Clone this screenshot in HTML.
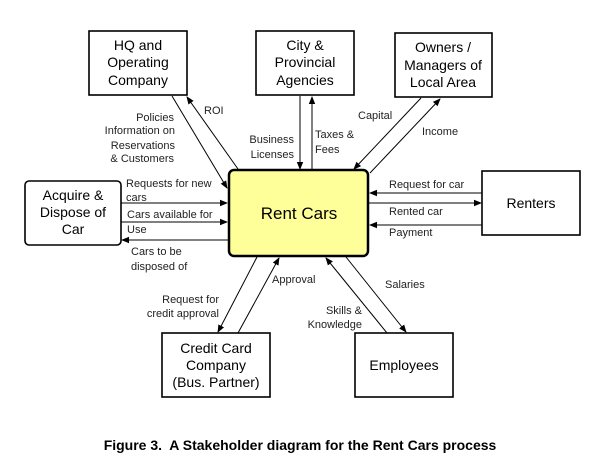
<!DOCTYPE html>
<html><head><meta charset="utf-8"><style>
body{margin:0;background:#fff;}
svg{display:block;font-family:"Liberation Sans",Arial,sans-serif;}
.b{font-size:14px;fill:#000;}
.l{font-size:11px;fill:#222;}
</style></head><body>
<svg width="600" height="462" viewBox="0 0 600 462">
<defs><marker id="a" markerWidth="8" markerHeight="8" refX="7" refY="4" orient="auto" markerUnits="userSpaceOnUse"><path d="M0,0.8 L8,4 L0,7.2 Z" fill="#000"/></marker></defs>
<g fill="#fff" stroke="#000" stroke-width="1.6">
<rect x="89" y="31" width="98" height="64"/>
<rect x="256" y="31" width="98" height="64"/>
<rect x="395" y="33" width="97" height="64"/>
<rect x="25" y="181" width="96" height="64" rx="4"/>
<rect x="482" y="171" width="98" height="64"/>
<rect x="162" y="333" width="108" height="64"/>
<rect x="355" y="333" width="98" height="64"/>
</g>
<rect x="229" y="170" width="139" height="86" rx="5" fill="#ffff99" stroke="#000" stroke-width="2.5"/>
<g stroke="#000" stroke-width="1" marker-end="url(#a)">
<line x1="172" y1="96" x2="227" y2="188"/>
<line x1="238" y1="169" x2="187" y2="97"/>
<line x1="300" y1="96" x2="300" y2="169"/>
<line x1="312" y1="169" x2="312" y2="97"/>
<line x1="421" y1="98" x2="354" y2="169"/>
<line x1="370" y1="173" x2="440" y2="99"/>
<line x1="121" y1="203" x2="227" y2="203"/>
<line x1="121" y1="222" x2="227" y2="222"/>
<line x1="229" y1="240" x2="122" y2="240"/>
<line x1="482" y1="193" x2="370" y2="193"/>
<line x1="369" y1="203" x2="481" y2="203"/>
<line x1="482" y1="225" x2="370" y2="225"/>
<line x1="257" y1="257" x2="218" y2="332"/>
<line x1="238" y1="333" x2="279" y2="258"/>
<line x1="387" y1="333" x2="326" y2="258"/>
<line x1="346" y1="257" x2="406" y2="332"/>
</g>
<g class="b" text-anchor="middle">
<text x="138" y="50">HQ and</text><text x="138" y="67">Operating</text><text x="138" y="85">Company</text>
<text x="305" y="50">City &amp;</text><text x="305" y="67">Provincial</text><text x="305" y="85">Agencies</text>
<text x="443" y="52">Owners /</text><text x="443" y="70">Managers of</text><text x="443" y="87">Local Area</text>
<text x="73" y="200">Acquire &amp;</text><text x="73" y="217">Dispose of</text><text x="73" y="234">Car</text>
<text x="531" y="208">Renters</text>
<text x="216" y="353">Credit Card</text><text x="216" y="370">Company</text><text x="216" y="387">(Bus. Partner)</text>
<text x="404" y="370">Employees</text>
<text x="299" y="219" font-size="17">Rent Cars</text>
</g>
<g class="l">
<text x="204" y="114">ROI</text>
<g text-anchor="end"><text x="174" y="121">Policies</text><text x="175" y="134">Information on</text><text x="175" y="149">Reservations</text><text x="174" y="162">&amp; Customers</text>
<text x="294" y="143">Business</text><text x="294" y="158">Licenses</text>
<text x="219" y="303">Request for</text><text x="219" y="317">credit approval</text>
<text x="362" y="314">Skills &amp;</text><text x="362" y="328">Knowledge</text></g>
<text x="315" y="138">Taxes &amp;</text><text x="315" y="153">Fees</text>
<text x="358" y="119">Capital</text><text x="422" y="135">Income</text>
<text x="126" y="187">Requests for new</text><text x="126" y="201">cars</text>
<text x="127" y="218">Cars available for</text><text x="127" y="233">Use</text>
<text x="131" y="255">Cars to be</text><text x="131" y="270">disposed of</text>
<text x="389" y="188">Request for car</text><text x="389" y="215">Rented car</text><text x="389" y="236">Payment</text>
<text x="272" y="283">Approval</text><text x="385" y="288">Salaries</text>
</g>
<text x="300" y="450" text-anchor="middle" font-size="14" font-weight="bold" xml:space="preserve">Figure 3.  A Stakeholder diagram for the Rent Cars process</text>
</svg>
</body></html>
